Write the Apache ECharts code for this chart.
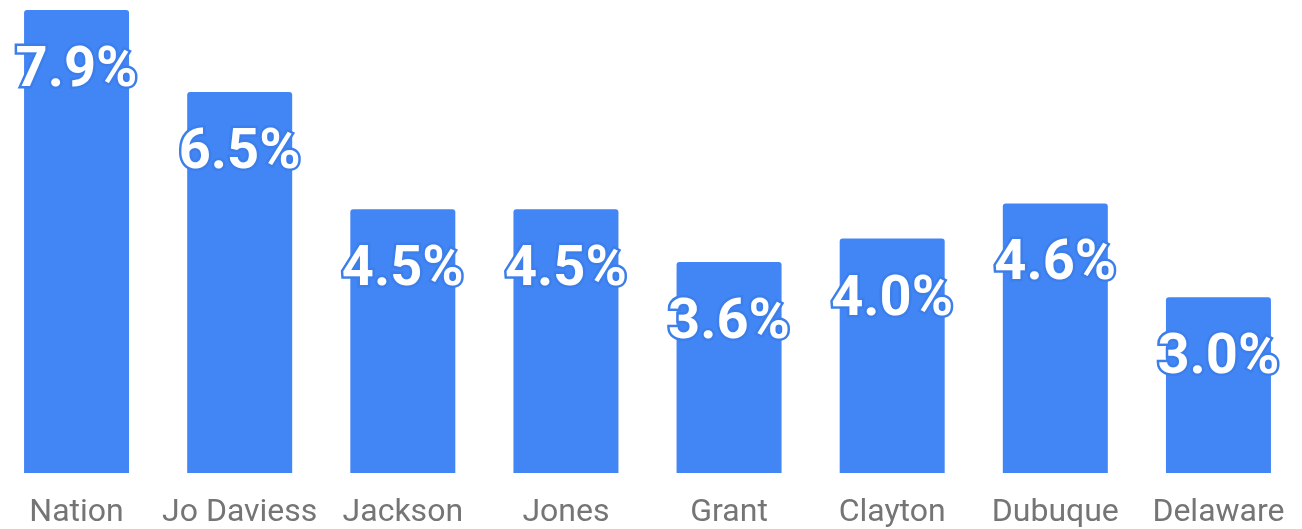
<!DOCTYPE html>
<html>
<head>
<meta charset="utf-8">
<script src="https://cdn.jsdelivr.net/npm/echarts@6/dist/echarts.min.js"></script>
<style>
  html, body { margin: 0; padding: 0; background: #ffffff; overflow: hidden; }
  #chart { position: absolute; left: -5px; top: 0; width: 1307px; height: 529px; }
</style>
</head>
<body>
<div id="chart"></div>
<script>
// Unemployment rate by area
const categories = ['Nation', 'Jo Daviess', 'Jackson', 'Jones', 'Grant', 'Clayton', 'Dubuque', 'Delaware'];
const rates = [7.9, 6.5, 4.5, 4.5, 3.6, 4.0, 4.6, 3.0];

const chart = echarts.init(document.getElementById('chart'), null, { renderer: 'canvas' });

chart.setOption({
  animation: false,
  backgroundColor: '#ffffff',
  grid: { left: 0, top: 10, width: 1305, bottom: 56, containLabel: false },
  xAxis: {
    type: 'category',
    data: categories,
    axisLine: { show: false },
    axisTick: { show: false },
    axisLabel: {
      color: '#757575',
      fontFamily: 'Roboto',
      fontSize: 32,
      margin: 24,
      interval: 0
    }
  },
  yAxis: {
    type: 'value',
    min: 0,
    max: 7.9,
    show: false,
    splitLine: { show: false }
  },
  series: [{
    type: 'bar',
    data: rates,
    barWidth: 105,
    itemStyle: { color: '#4285F4', borderRadius: [3, 3, 0, 0] },
    label: {
      show: true,
      position: ['50%', 62],
      align: 'center',
      verticalAlign: 'middle',
      formatter: p => p.value.toFixed(1) + '%',
      color: '#ffffff',
      fontFamily: 'Roboto',
      fontWeight: 'bold',
      fontSize: 56,
      textBorderColor: '#3C7FEA',
      textBorderWidth: 5
    }
  }]
});
</script>
</body>
</html>
